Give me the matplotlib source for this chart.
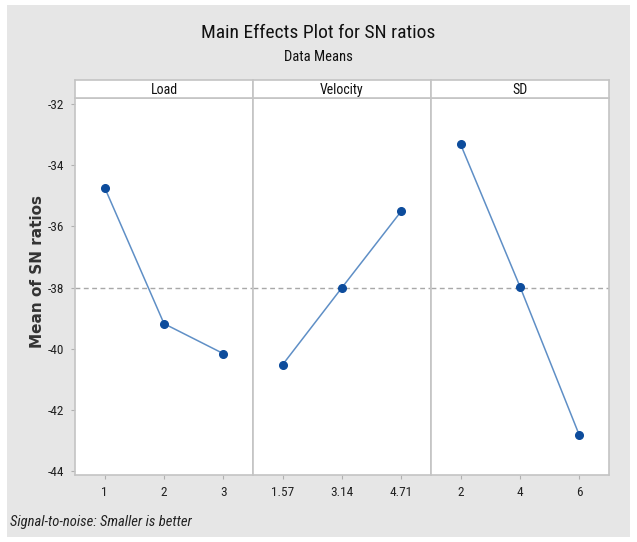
import matplotlib
matplotlib.use("Agg")
import matplotlib.pyplot as plt
from matplotlib.patches import Rectangle
from matplotlib import font_manager
import numpy as np

factors = ["Load", "Velocity", "SD"]
load_levels = ["1", "2", "3"]
velocity_levels = ["1.57", "3.14", "4.71"]
sd_levels = ["2", "4", "6"]
load_means = [-34.73, -39.18, -40.16]
velocity_means = [-40.52, -38.00, -35.50]
sd_means = [-33.32, -37.97, -42.83]
y_ticks = [-32, -34, -36, -38, -40, -42, -44]

levels = [load_levels, velocity_levels, sd_levels]
means = [load_means, velocity_means, sd_means]
grand_mean = float(np.mean(load_means + velocity_means + sd_means))

names = {f.name for f in font_manager.fontManager.ttflist}
cond_pref = [n for n in ["Liberation Sans Narrow", "Roboto Condensed", "Open Sans Condensed", "Lato"] if n in names]
cond = cond_pref[:1] + ["DejaVu Sans"]

W, H = 637, 542
fig = plt.figure(figsize=(W / 100, H / 100), dpi=100)
fig.patch.set_facecolor("white")
bg = Rectangle((7 / W, 5 / H), (630 - 7) / W, (537 - 5) / H,
               transform=fig.transFigure, facecolor="#e6e6e6",
               edgecolor="none", zorder=-10)
fig.add_artist(bg)

spine_c = "#c4c4c4"
left, right = 75, 609
top, bottom = 98, 475
strip_top = 80
pw = (right - left) / 3

fig.text(0.5, 1 - 33 / H, "Main Effects Plot for SN ratios", ha="center", va="center",
         fontsize=14, family=cond, color="#111111")
fig.text(0.5, 1 - 57 / H, "Data Means", ha="center", va="center",
         fontsize=10.5, family=cond, color="#111111")

for i, (fac, lv, mv) in enumerate(zip(factors, levels, means)):
    x0 = left + i * pw
    ax = fig.add_axes([x0 / W, 1 - bottom / H, pw / W, (bottom - top) / H])
    sax = fig.add_axes([x0 / W, 1 - top / H, pw / W, (top - strip_top) / H])
    sax.set_facecolor("white")
    sax.set_xticks([]); sax.set_yticks([])
    for s in sax.spines.values():
        s.set_color(spine_c); s.set_linewidth(1.2)
    sax.text(0.5, 0.45, fac, ha="center", va="center", transform=sax.transAxes,
             fontsize=10, family=cond, color="#111111")

    ax.set_facecolor("white")
    xs = np.arange(len(lv))
    ax.axhline(grand_mean, color="#a8a8a8", lw=1.0, ls=(0, (3.5, 2.5)), zorder=1)
    ax.plot(xs, mv, color="#5f8fc6", lw=1.1, zorder=2)
    ax.plot(xs, mv, ls="none", marker="o", ms=5.5, color="#0d4c9c",
            markeredgecolor="#0d4c9c", zorder=3)
    ax.set_xlim(-0.5, 2.5)
    ax.set_ylim(-44.13, -31.8)
    ax.set_xticks(xs)
    ax.set_xticklabels(lv, family=cond, fontsize=9.5, color="#222222")
    ax.set_yticks(y_ticks)
    if i == 0:
        ax.set_yticklabels([str(t) for t in y_ticks], family=cond, fontsize=9.5,
                           color="#222222")
    else:
        ax.tick_params(axis="y", left=False, labelleft=False)
    ax.tick_params(axis="both", direction="out", length=3, width=0.8, color="#b0b0b0", pad=5)
    for s in ax.spines.values():
        s.set_color(spine_c); s.set_linewidth(1.2)

fig.text(38 / W, 1 - 272 / H, "Mean of SN ratios", rotation=90, ha="center", va="center",
         fontsize=11, family="DejaVu Sans", fontweight="semibold", color="#333333")
fig.text(10 / W, 1 - 522 / H, "Signal-to-noise: Smaller is better", ha="left", va="center",
         fontsize=10.5, family=cond, style="italic", color="#222222")

fig.savefig("out.png", dpi=100, facecolor=fig.get_facecolor())
